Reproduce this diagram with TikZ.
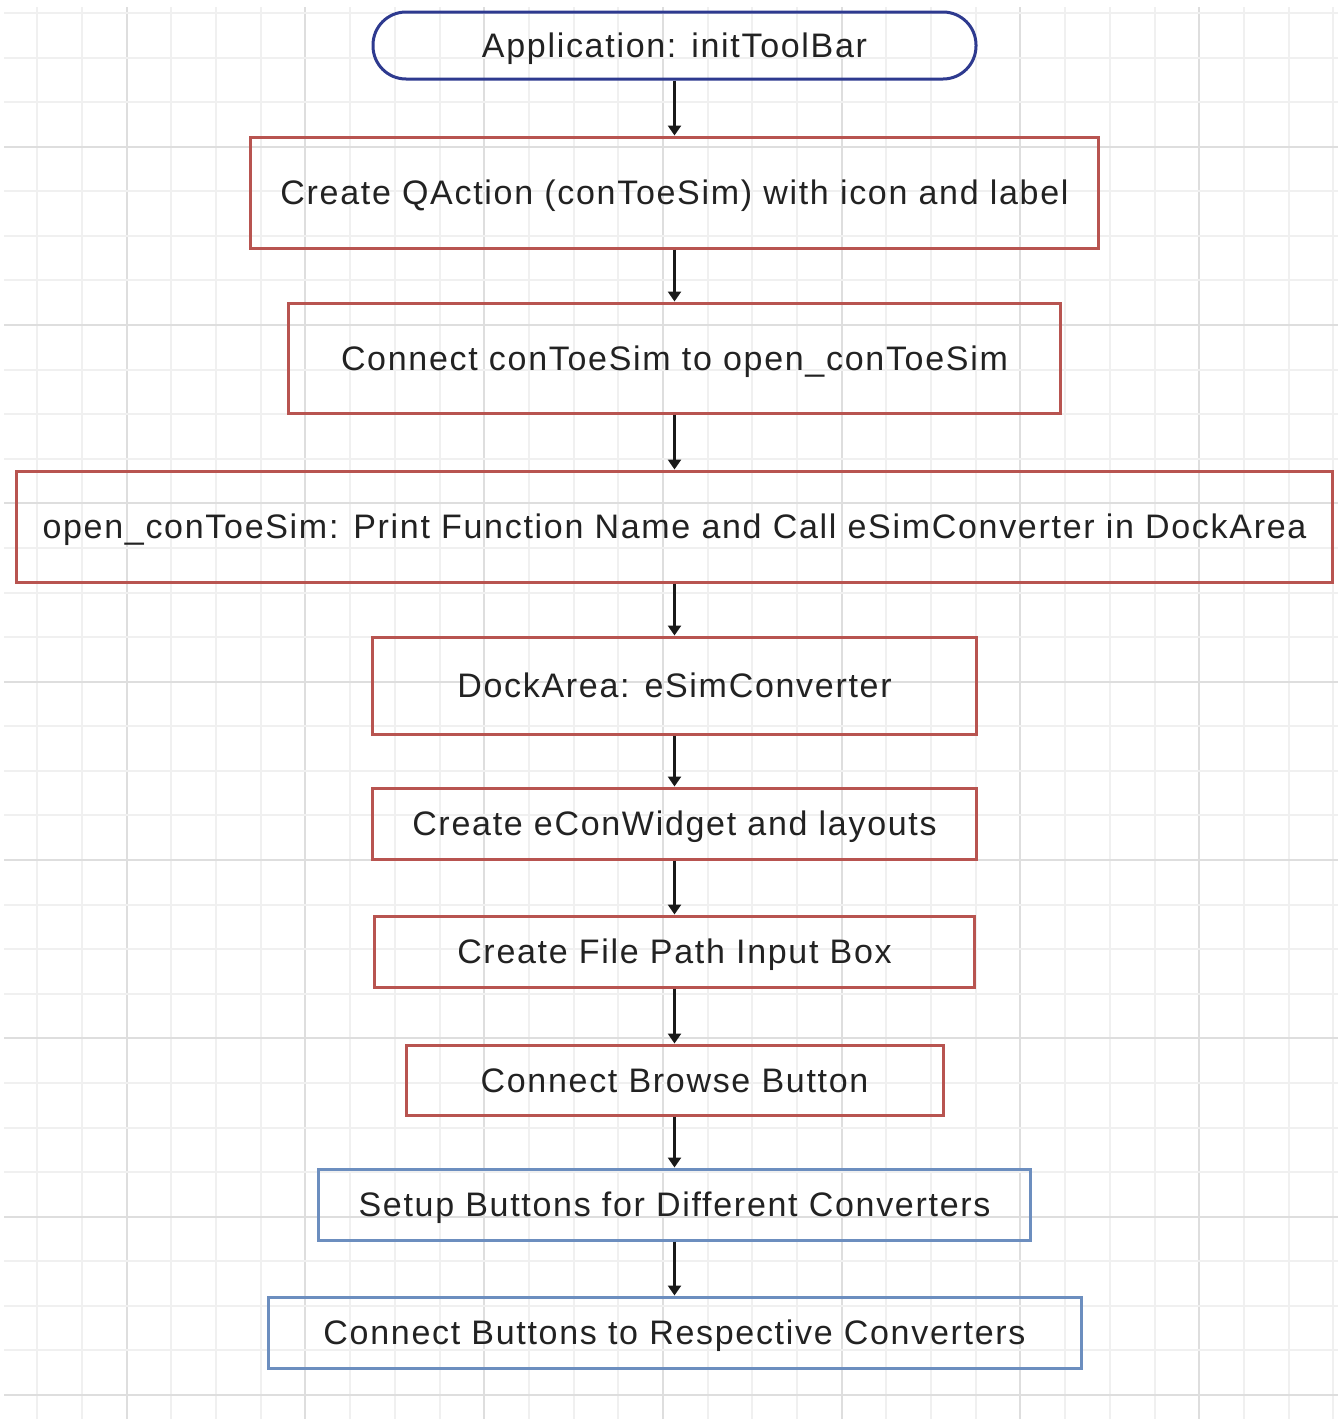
\documentclass[tikz,border=0pt]{standalone}
\usepackage{fontspec}
\setmainfont{Liberation Sans}[LetterSpace=5]
\usepackage{tikz}
\usetikzlibrary{arrows.meta}

\definecolor{gridminor}{HTML}{F0F0F0}
\definecolor{gridmajor}{HTML}{DEDEDE}
\definecolor{stepred}{HTML}{B85450}
\definecolor{stepblue}{HTML}{6C8EBF}
\definecolor{startblue}{HTML}{2E3A8F}
\definecolor{labelgrey}{HTML}{222222}

\tikzset{
    stepbox/.style={draw=stepred, line width=3pt, rectangle, inner sep=0pt,
        text height=24pt, text depth=0pt,
        text=labelgrey, font=\fontsize{34}{40}\selectfont},
    convbox/.style={stepbox, draw=stepblue},
    startbox/.style={stepbox, draw=startblue, rounded corners=33pt},
    flow/.style={draw=black!90, line width=2.6pt, -{Triangle[width=13pt,length=10pt]}}
}

\begin{document}
\begin{tikzpicture}[x=1pt, y=-1pt]

            \useasboundingbox (0,0) rectangle (1338,1419);
            \fill[white] (0,0) rectangle (1338,1419);

            \foreach \i in {0,...,29} {
                \pgfmathsetmacro{\gx}{37.3+44.69*\i}
                \pgfmathtruncatemacro{\gm}{mod(\i+2,4)}
                \ifnum\gm=0
                    \draw[gridmajor, line width=2pt] (\gx,7) -- (\gx,1419);
                \else
                    \draw[gridminor, line width=2pt] (\gx,7) -- (\gx,1419);
                \fi
            }
            \foreach \j in {0,...,31} {
                \pgfmathsetmacro{\gy}{13+44.58*\j}
                \pgfmathtruncatemacro{\gm}{mod(\j+1,4)}
                \ifnum\gm=0
                    \draw[gridmajor, line width=2pt] (4,\gy) -- (1338,\gy);
                \else
                    \draw[gridminor, line width=2pt] (4,\gy) -- (1338,\gy);
                \fi
            }

            \node (init) [startbox, minimum width=603pt, minimum height=67pt] at (674.5,45.5) {Application: initToolBar};
            \node (qaction) [stepbox, minimum width=848pt, minimum height=111pt] at (674.5,192.5) {Create QAction (conToeSim) with icon and label};
            \node (connect) [stepbox, minimum width=772pt, minimum height=110pt] at (674.5,358) {Connect conToeSim to open\_conToeSim};
            \node (opener) [stepbox, minimum width=1316pt, minimum height=111pt] at (674.5,526.5) {open\_conToeSim: Print Function Name and Call eSimConverter in DockArea};
            \node (dock) [stepbox, minimum width=604pt, minimum height=97pt] at (674.5,685.5) {DockArea: eSimConverter};
            \node (widget) [stepbox, minimum width=604pt, minimum height=71pt] at (674.5,823.5) {Create eConWidget and layouts};
            \node (pathbox) [stepbox, minimum width=600pt, minimum height=71pt] at (674.5,951.5) {Create File Path Input Box};
            \node (browse) [stepbox, minimum width=537pt, minimum height=70pt] at (674.5,1080) {Connect Browse Button};
            \node (setup) [convbox, minimum width=712pt, minimum height=71pt] at (674.5,1204.5) {Setup Buttons for Different Converters};
            \node (linkconv) [convbox, minimum width=813pt, minimum height=71pt] at (674.5,1332.5) {Connect Buttons to Respective Converters};

            \draw[flow] (init) -- (qaction);
            \draw[flow] (qaction) -- (connect);
            \draw[flow] (connect) -- (opener);
            \draw[flow] (opener) -- (dock);
            \draw[flow] (dock) -- (widget);
            \draw[flow] (widget) -- (pathbox);
            \draw[flow] (pathbox) -- (browse);
            \draw[flow] (browse) -- (setup);
            \draw[flow] (setup) -- (linkconv);

        \end{tikzpicture}
\end{document}
